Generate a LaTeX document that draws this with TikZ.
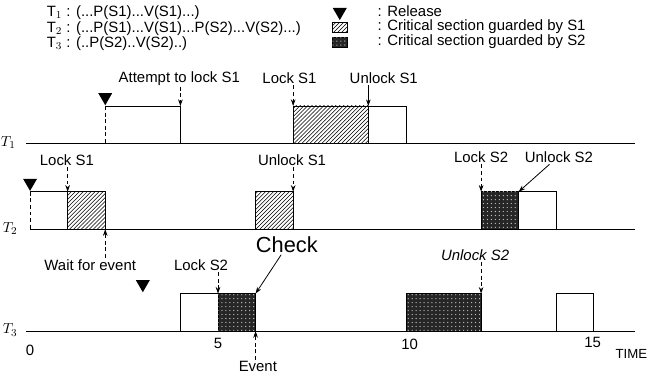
\documentclass[tikz,border=0pt]{standalone}
\usepackage{fontspec}
\setmainfont{Liberation Sans}
\usetikzlibrary{positioning}
\usetikzlibrary{patterns}
\usetikzlibrary{arrows.meta}
\usetikzlibrary{shapes.geometric}

\tikzset{
    lbl/.style={font=\fontsize{11.3}{13}\selectfont, inner sep=1pt},
    tip/.style={-{Stealth[length=5pt,width=3.5pt]}},
    ptr/.style={tip, densely dashed},
    rel/.style={regular polygon, regular polygon sides=3, shape border rotate=180,
        fill=black, inner sep=0pt, minimum size=0.43cm},
    critA/.style={draw, pattern=north east lines},
    critB/.style={draw, fill=black!85, postaction={pattern=dots, pattern color=white!75!black}},
}

\begin{document}
\begin{tikzpicture}[line width=0.6pt]
    \useasboundingbox (-0.8,0) rectangle (16.52,9.95);

    % task code
    \node[lbl, anchor=west] (code1) at (0.4,9.62) {T$_1$ : (...P(S1)...V(S1)...)};
    \node[lbl, anchor=west] (code2) at (0.4,9.2) {T$_2$ : (...P(S1)...V(S1)...P(S2)...V(S2)...)};
    \node[lbl, anchor=west] (code3) at (0.4,8.8) {T$_3$ : (..P(S2)..V(S2)..)};

    % legend
    \node[rel] (keyrel) at (8.24,9.63) {};
    \draw[critA] (8.05,9.1) rectangle (8.45,9.36);
    \draw[critB] (8.05,8.7) rectangle (8.45,8.96);
    \node[lbl, anchor=west] (txtrel) at (9.2,9.64) {: Release};
    \node[lbl, anchor=west] (txtA) at (9.2,9.23) {: Critical section guarded by S1};
    \node[lbl, anchor=west] (txtB) at (9.2,8.83) {: Critical section guarded by S2};

    % T1
    \begin{scope}[yshift=6.13cm]
        \draw (-0.1,0) -- (16.1,0);
        \node[lbl] (name1) at (-0.58,0.02) {$T_1$};
        \node[rel, anchor=corner 1] (rel1) at (2,1) {};
        \draw[densely dashed] (rel1.corner 1) -- (2,0);
        \draw (2,1) -- (4,1) -- (4,0);
        \draw[critA] (7,0) rectangle (9,1);
        \draw (9,1) -- (10,1) -- (10,0);

        \coordinate (try1) at (4,1);
        \coordinate (lock1) at (7,1);
        \coordinate (unlock1) at (9,1);
        \node[lbl] (trytxt1) at (3.97,1.74) {Attempt to lock S1};
        \node[lbl] (locktxt1) at (6.9,1.74) {Lock S1};
        \node[lbl] (unlocktxt1) at (9.41,1.74) {Unlock S1};
        \draw[ptr] (trytxt1.south -| try1) -- (try1);
        \draw[ptr] (locktxt1.south -| lock1) -- (lock1);
        \draw[tip] (unlocktxt1.south -| unlock1) -- (unlock1);
    \end{scope}

    % T2
    \begin{scope}[yshift=3.85cm]
        \draw (0,0) -- (16.1,0);
        \node[lbl] (name2) at (-0.53,0.03) {$T_2$};
        \node[rel, anchor=corner 1] (rel2) at (0,1) {};
        \draw[densely dashed] (rel2.corner 1) -- (0,0);
        \draw (0,1) -- (1,1);
        \draw[critA] (1,0) rectangle (2,1);
        \draw[critA] (6,0) rectangle (7,1);
        \draw[critB] (12,0) rectangle (13,1);
        \draw (13,1) -- (14,1) -- (14,0);

        \coordinate (lock2) at (1,1);
        \coordinate (wait2) at (2,0);
        \coordinate (unlock2) at (7,1);
        \coordinate (lock3) at (12,1);
        \coordinate (unlock3) at (13,1);
        \node[lbl] (locktxt2) at (0.98,1.84) {Lock S1};
        \node[lbl] (waittxt2) at (1.6,-0.95) {Wait for event};
        \node[lbl] (unlocktxt2) at (6.97,1.84) {Unlock S1};
        \node[lbl] (locktxt3) at (12,1.92) {Lock S2};
        \node[lbl] (unlocktxt3) at (14.07,1.92) {Unlock S2};
        \draw[ptr] (locktxt2.south -| lock2) -- (lock2);
        \draw[ptr] (waittxt2.north -| wait2) -- (wait2);
        \draw[ptr] (unlocktxt2.south -| unlock2) -- (unlock2);
        \draw[ptr] (locktxt3.south -| lock3) -- (lock3);
        \draw[tip] ([xshift=-0.25cm]unlocktxt3.south) -- (unlock3);
    \end{scope}

    % T3
    \begin{scope}[yshift=1.14cm]
        \draw (-0.1,0) -- (16.1,0);
        \node[lbl] (name3) at (-0.53,0.03) {$T_3$};
        \node[rel] (rel3) at (3,1.25) {};
        \draw (4,0) -- (4,1) -- (5,1);
        \draw[critB] (5,0) rectangle (6,1);
        \draw[critB] (10,0) rectangle (12,1);
        \draw (14,0) -- (14,1) -- (15,1) -- (15,0);

        \coordinate (lock4) at (5,1);
        \coordinate (check4) at (6,1);
        \coordinate (event4) at (6,0);
        \coordinate (unlock4) at (12,1);
        \node[lbl] (locktxt4) at (4.55,1.76) {Lock S2};
        \node[lbl, font=\fontsize{16.5}{18}\selectfont] (checktxt4) at (6.83,2.29) {Check};
        \node[lbl, font=\fontsize{11.3}{13}\selectfont\itshape] (unlocktxt4) at (11.84,2.02) {Unlock S2};
        \node[lbl] (eventtxt4) at (6.06,-0.95) {Event};
        \draw[ptr] (locktxt4.south -| lock4) -- (lock4);
        \draw[tip] ([xshift=-0.15cm]checktxt4.south) -- (check4);
        \draw[ptr] (unlocktxt4.south -| unlock4) -- (unlock4);
        \draw[ptr] (eventtxt4.north -| event4) -- (event4);

        % time axis
        \node[lbl] (tick0) at (0,-0.5) {0};
        \node[lbl] (tick5) at (5,-0.34) {5};
        \node[lbl] (tick10) at (10.1,-0.34) {10};
        \node[lbl] (tick15) at (14.97,-0.3) {15};
        \node[lbl, font=\fontsize{10}{12}\selectfont, anchor=west] (timetxt) at (15.53,-0.62) {TIME};
    \end{scope}
\end{tikzpicture}
\end{document}
